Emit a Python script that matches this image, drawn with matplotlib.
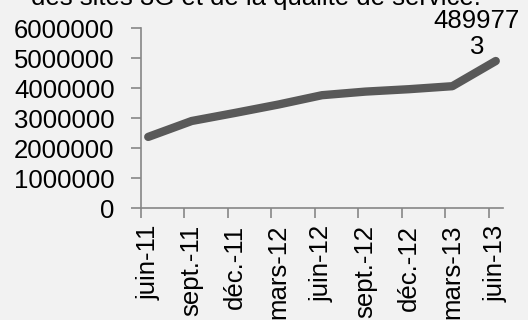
import matplotlib.pyplot as plt

plt.rcParams['font.family'] = ['Liberation Sans', 'DejaVu Sans']

# valeurs
mois = ["juin-11", "sept.-11", "déc.-11", "mars-12", "juin-12",
        "sept.-12", "déc.-12", "mars-13", "juin-13"]
valeurs = [2370000, 2900000, 3170000, 3450000, 3760000,
           3880000, 3960000, 4060000, 4899773]
yticks = [0, 1000000, 2000000, 3000000, 4000000, 5000000, 6000000]

bg = "#f2f2f2"
gris = "#868686"
fs = 18.5

fig = plt.figure(figsize=(5.28, 3.2), dpi=100, facecolor=bg)
ax = fig.add_axes([141 / 528, 1 - 208 / 320, 362 / 528, 180 / 320])
ax.set_facecolor(bg)

x = [3 * i + 0.5 for i in range(len(valeurs))]
ax.plot(x, valeurs, color="#595959", lw=6, solid_capstyle="round",
        solid_joinstyle="round", clip_on=False)

ax.set_xlim(0, 25)
ax.set_ylim(0, 6000000)
ax.set_yticks(yticks)
ax.set_yticklabels([str(v) for v in yticks], fontsize=fs)
ax.tick_params(axis="y", pad=12)

ax.set_xticks([3 * i for i in range(9)])
ax.set_xticklabels([])
ax.set_xticks(x, minor=True)
ax.set_xticklabels(mois, minor=True, rotation=90, fontsize=fs)
ax.tick_params(axis="x", which="minor", length=0, pad=12)
ax.tick_params(axis="both", which="major", length=7, width=1.2, color=gris)

for s in ["top", "right"]:
    ax.spines[s].set_visible(False)
for s in ["left", "bottom"]:
    ax.spines[s].set_color(gris)
    ax.spines[s].set_linewidth(1.2)

ax.annotate("489977\n3", (x[-1], valeurs[-1]), xytext=(-19, 2),
            textcoords="offset pixels", ha="center", va="bottom",
            fontsize=fs, linespacing=1.1)

fig.text(256 / 528, 1 - 5 / 320, "des sites 3G et de la qualité de service.",
         ha="center", va="baseline", fontsize=fs)

fig.savefig("out.png", dpi=100, facecolor=bg)
